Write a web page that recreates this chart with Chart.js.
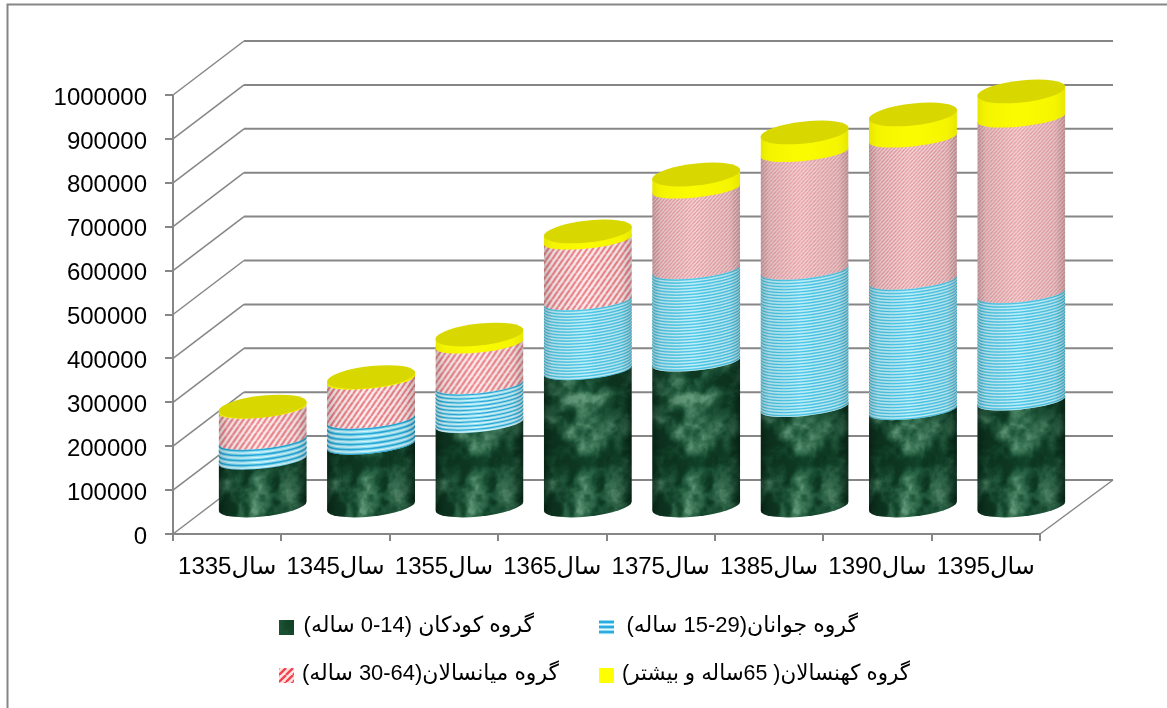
<!DOCTYPE html>
<html>
<head>
<meta charset="utf-8">
<title>Chart</title>
<style>
  body { margin: 0; background: #fff; }
  canvas { display: block; }
</style>
<script src="https://cdn.jsdelivr.net/npm/chart.js@4"></script>
</head>
<body>
<canvas id="chart" width="1167" height="708"></canvas>
<script>
// ===== Data =====
const categories = ['سال1335', 'سال1345', 'سال1355', 'سال1365', 'سال1375', 'سال1385', 'سال1390', 'سال1395'];
const children = [107000, 141200, 190200, 310900, 330300, 226700, 219800, 241500];
const youth = [45600, 59200, 88800, 159500, 210700, 313200, 297300, 244900];
const middleAged = [70600, 88800, 92300, 137800, 183400, 267700, 323500, 399800];
const elderly = [5700, 6800, 21600, 19400, 33000, 45600, 53500, 60400];
const seriesNames = [
  'گروه کودکان (14-0 ساله)',
  'گروه جوانان(29-15 ساله)',
  'گروه میانسالان(64-30 ساله)',
  'گروه کهنسالان( 65ساله و بیشتر)',
];
const yMax = 1000000;
const yStep = 100000;

const FONT = '"Liberation Sans", "DejaVu Sans", sans-serif';
const LINE = '#868686';
const DEPTH_X = 71;
const DEPTH_Y = 54;
const ARC_RY = 8.5;
const BASE_RY = 10.5;
const LID_RY = 11;
const SHEAR = -4.5 / 44;

// ===== Textures =====
function noise(x, y) {
  const h = (a, b) => {
    const s = Math.sin(a * 127.1 + b * 311.7) * 43758.5453;
    return s - Math.floor(s);
  };
  const xi = Math.floor(x), yi = Math.floor(y);
  const fx = x - xi, fy = y - yi;
  const u = fx * fx * (3 - 2 * fx), v = fy * fy * (3 - 2 * fy);
  const top = h(xi, yi) * (1 - u) + h(xi + 1, yi) * u;
  const bot = h(xi, yi + 1) * (1 - u) + h(xi + 1, yi + 1) * u;
  return top * (1 - v) + bot * v;
}

function fbm(x, y) {
  let n = 0, amp = 0.5, f = 1;
  for (let o = 0; o < 5; o++) {
    n += amp * noise(x * f, y * f);
    amp /= 2;
    f *= 2.1;
  }
  return n;
}

function makeMarble(w, h) {
  const c = document.createElement('canvas');
  c.width = w; c.height = h;
  const g = c.getContext('2d');
  const img = g.createImageData(w, h);
  for (let y = 0; y < h; y++) {
    for (let x = 0; x < w; x++) {
      const wx = fbm(x / 30 + 1.7, y / 30 + 4.2) * 0.7;
      const wy = fbm(x / 30 + 8.3, y / 30 + 2.8) * 0.7;
      let n = fbm(x / 16 + wx + 3.1, y / 16 + wy + 7.7);
      const dx = (x - w * 0.55) / (w * 0.3), dy = (y - h * 0.6) / (h * 0.35);
      n += 0.07 * Math.exp(-(dx * dx + dy * dy));
      const t = Math.max(0, Math.min(1, (n - 0.3) / 0.5));
      const i = (y * w + x) * 4;
      img.data[i] = 14 + t * t * 85;
      img.data[i + 1] = 56 + t * 48 + t * t * 50;
      img.data[i + 2] = 34 + t * 28 + t * t * 60;
      img.data[i + 3] = 255;
    }
  }
  g.putImageData(img, 0, 0);
  return c;
}

function makeHatch(w, h, color, back, lw) {
  const c = document.createElement('canvas');
  c.width = w; c.height = h;
  const g = c.getContext('2d');
  g.fillStyle = back;
  g.fillRect(0, 0, w, h);
  g.strokeStyle = color;
  g.lineWidth = lw;
  for (let i = -1; i <= 1; i++) {
    g.beginPath();
    g.moveTo(i * w, h);
    g.lineTo(i * w + w, 0);
    g.stroke();
  }
  return c;
}

const marble = makeMarble(88, 200);
const hatchWide = makeHatch(6, 8, '#ee7d86', '#fbeeee', 2.2);
const hatchFine = makeHatch(4, 4, '#e6939b', '#f3dcdc', 1.3);

// ===== Cylinder drawing =====
function segmentPath(ctx, r, yt, yb, bottomRy) {
  ctx.beginPath();
  ctx.moveTo(-r, yt);
  ctx.lineTo(-r, yb);
  ctx.ellipse(0, yb, r, bottomRy, 0, Math.PI, 0, true);
  ctx.lineTo(r, yt);
  ctx.ellipse(0, yt, r, ARC_RY, 0, 0, Math.PI, true);
  ctx.closePath();
}

function shade(ctx, r, top, bottom, alpha) {
  const g = ctx.createLinearGradient(-r, 0, r, 0);
  g.addColorStop(0, `rgba(0,0,0,${alpha})`);
  g.addColorStop(0.1, `rgba(0,0,0,${alpha * 0.35})`);
  g.addColorStop(0.45, 'rgba(0,0,0,0)');
  g.addColorStop(0.88, `rgba(0,0,0,${alpha * 0.3})`);
  g.addColorStop(1, `rgba(0,0,0,${alpha})`);
  ctx.fillStyle = g;
  ctx.fillRect(-r, top, r * 2, bottom - top);
}

function fillSegment(ctx, index, r, yt, yb) {
  const top = yt - 12, bottom = yb + 12;
  const h = yb - yt;
  ctx.save();
  segmentPath(ctx, r, yt, yb, index === 0 ? BASE_RY : ARC_RY);
  ctx.clip();
  if (index === 0) {
    const sh = Math.min(200, bottom - top);
    ctx.drawImage(marble, 0, 200 - sh, 88, sh, -r, top, r * 2, sh);
    shade(ctx, r, top, bottom, 0.42);
  } else if (index === 1) {
    ctx.fillStyle = '#8fe0f2';
    ctx.fillRect(-r, top, r * 2, bottom - top);
    const step = h < 30 ? 5 : h < 50 ? 3.9 : 3;
    for (let y = yt + 1; y <= yb + 1; y += step) {
      ctx.lineWidth = step > 4 ? 1.6 : 1;
      ctx.strokeStyle = step > 3 ? '#2aa9da' : 'rgba(40,185,225,0.7)';
      ctx.beginPath();
      ctx.ellipse(0, y, r, ARC_RY, 0, Math.PI, 0, true);
      ctx.stroke();
      ctx.strokeStyle = 'rgba(235,250,255,0.85)';
      ctx.lineWidth = step > 3 ? 1 : 0.7;
      ctx.beginPath();
      ctx.ellipse(0, y + step * 0.5, r, ARC_RY, 0, Math.PI, 0, true);
      ctx.stroke();
    }
    shade(ctx, r, top, bottom, 0.2);
  } else if (index === 2) {
    ctx.fillStyle = ctx.createPattern(h < 70 ? hatchWide : hatchFine, 'repeat');
    ctx.fillRect(-r, top, r * 2, bottom - top);
    shade(ctx, r, top, bottom, 0.2);
  } else {
    ctx.fillStyle = '#fbfb00';
    ctx.fillRect(-r, top, r * 2, bottom - top);
    shade(ctx, r, top, bottom, 0.08);
  }
  ctx.restore();
}

// ===== Plugin: walls, cylinders, legend =====
const scene3d = {
  id: 'scene3d',
  beforeDraw(chart) {
    const ctx = chart.ctx;
    ctx.save();
    ctx.fillStyle = '#fff';
    ctx.fillRect(0, 0, chart.width, chart.height);
    ctx.strokeStyle = LINE;
    ctx.lineWidth = 2;
    ctx.beginPath();
    ctx.moveTo(7.5, chart.height);
    ctx.lineTo(7.5, 4.5);
    ctx.lineTo(chart.width, 4.5);
    ctx.stroke();
    ctx.restore();
  },
  beforeDatasetsDraw(chart) {
    const { ctx, chartArea, scales } = chart;
    const l = chartArea.left, r = chartArea.right;
    ctx.save();
    ctx.strokeStyle = LINE;
    scales.y.ticks.forEach((t) => {
      const y = scales.y.getPixelForValue(t.value);
      ctx.lineWidth = 1.5;
      ctx.beginPath();
      ctx.moveTo(l, y);
      ctx.lineTo(l + DEPTH_X, y - DEPTH_Y);
      ctx.stroke();
      ctx.lineWidth = 2;
      ctx.beginPath();
      ctx.moveTo(l + DEPTH_X, y - DEPTH_Y);
      ctx.lineTo(r + DEPTH_X + 2, y - DEPTH_Y);
      ctx.stroke();
    });
    const y0 = scales.y.getPixelForValue(0);
    ctx.lineWidth = 1.5;
    ctx.beginPath();
    ctx.moveTo(r, y0);
    ctx.lineTo(r + DEPTH_X + 2, y0 - DEPTH_Y);
    ctx.stroke();
    ctx.restore();
  },
  afterDatasetsDraw(chart) {
    const ctx = chart.ctx;
    const count = chart.data.labels.length;
    const last = chart.data.datasets.length - 1;
    for (let i = 0; i < count; i++) {
      for (let d = 0; d <= last; d++) {
        const bar = chart.getDatasetMeta(d).data[i];
        const rx = bar.width / 2;
        const yt = bar.y - DEPTH_Y / 2;
        const yb = bar.base - DEPTH_Y / 2;
        ctx.save();
        ctx.transform(1, SHEAR, 0, 1, bar.x + DEPTH_X / 2, 0);
        fillSegment(ctx, d, rx, yt, yb);
        if (d === last) {
          ctx.fillStyle = '#d9d700';
          ctx.beginPath();
          ctx.ellipse(0, yt, rx, LID_RY, 0, 0, Math.PI * 2);
          ctx.fill();
        }
        ctx.restore();
      }
    }
  },
  afterDraw(chart) {
    const ctx = chart.ctx;
    const slots = [
      { box: 279, textRight: 534, y: 620, width: 232 },
      { box: 599, textRight: 858, y: 620, width: 236 },
      { box: 279, textRight: 559, y: 668, width: 257 },
      { box: 599, textRight: 910, y: 668, width: 288 },
    ];
    chart.data.datasets.forEach((ds, i) => {
      const s = slots[i];
      ctx.save();
      ctx.beginPath();
      ctx.rect(s.box, s.y, 15, 15);
      ctx.clip();
      if (i === 0) {
        ctx.drawImage(marble, 20, 40, 15, 15, s.box, s.y, 15, 15);
        ctx.fillStyle = 'rgba(20,70,40,0.7)';
        ctx.fillRect(s.box, s.y, 15, 15);
      } else if (i === 1) {
        ctx.fillStyle = '#8edcf2';
        ctx.fillRect(s.box, s.y, 15, 15);
        ctx.fillStyle = '#2aaade';
        [1, 6, 11].forEach((o) => ctx.fillRect(s.box, s.y + o, 15, 2));
        ctx.fillStyle = '#f0fbff';
        [4, 9, 14].forEach((o) => ctx.fillRect(s.box, s.y + o, 15, 1));
      } else if (i === 2) {
        ctx.translate(s.box, s.y);
        ctx.fillStyle = ctx.createPattern(makeHatch(7, 7, '#f4434f', '#fde4e4', 2.4), 'repeat');
        ctx.fillRect(0, 0, 15, 15);
      } else {
        ctx.fillStyle = '#ffff00';
        ctx.fillRect(s.box, s.y, 15, 15);
      }
      ctx.restore();
      ctx.save();
      ctx.direction = 'rtl';
      ctx.textAlign = 'start';
      ctx.textBaseline = 'middle';
      ctx.fillStyle = '#000';
      ctx.font = `22px ${FONT}`;
      ctx.fillText(ds.label, s.textRight, s.y + 6, s.width);
      ctx.restore();
    });
  },
};

// ===== Chart =====
const seriesValues = [children, youth, middleAged, elderly];

new Chart(document.getElementById('chart'), {
  type: 'bar',
  data: {
    labels: categories,
    datasets: seriesValues.map((values, i) => ({
      label: seriesNames[i],
      data: values,
      backgroundColor: 'rgba(0,0,0,0)',
      borderWidth: 0,
      categoryPercentage: 1,
      barPercentage: 0.812,
    })),
  },
  options: {
    responsive: false,
    animation: false,
    devicePixelRatio: 1,
    layout: { padding: { left: 0, right: 127, top: 95, bottom: 114 } },
    plugins: { legend: { display: false }, tooltip: { enabled: false }, title: { display: false } },
    scales: {
      x: {
        stacked: true,
        // tall enough that the label glyphs are not clipped by the axis box
        afterFit(axis) { axis.height = 60; },
        border: { color: LINE, width: 2 },
        grid: { color: LINE, lineWidth: 2, drawOnChartArea: false, tickLength: 7 },
        ticks: { color: '#000', font: { family: FONT, size: 24 }, padding: 12, maxRotation: 0, autoSkip: false },
      },
      y: {
        stacked: true,
        min: 0,
        max: yMax,
        afterFit(axis) { axis.width = 173; },
        border: { color: LINE, width: 2 },
        grid: { color: LINE, lineWidth: 2, drawOnChartArea: false, tickLength: 8 },
        ticks: {
          stepSize: yStep,
          color: '#000',
          font: { family: FONT, size: 24, lineHeight: '6px' },
          padding: 18,
          // empty first line pushes the label a few px below its tick
          callback: (v) => ['', String(v)],
        },
      },
    },
  },
  plugins: [scene3d],
});
</script>
</body>
</html>
